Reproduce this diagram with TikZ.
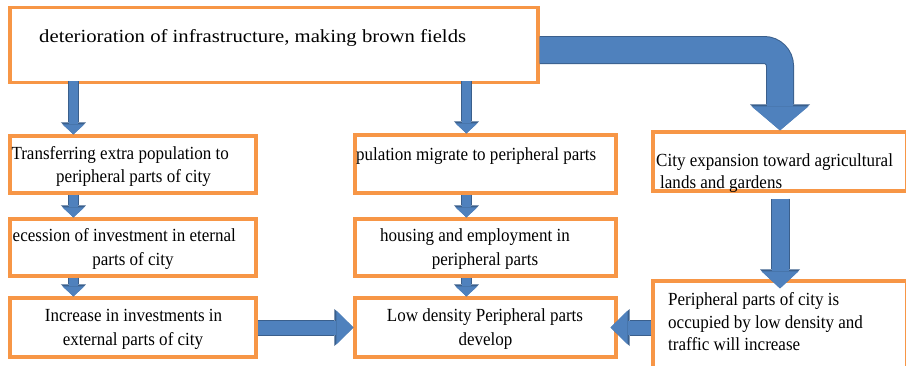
\documentclass[tikz,border=0pt]{standalone}
\usepackage{fontspec}
\setmainfont{Liberation Serif}
\newfontfamily\topfont[FakeStretch=1.12]{Liberation Serif}
\newfontfamily\bodyfont[FakeStretch=0.92]{Liberation Serif}
\usetikzlibrary{arrows.meta}

\definecolor{boxorange}{HTML}{F79646}
\definecolor{arrowfill}{HTML}{4F81BD}
\definecolor{arrowedge}{HTML}{3A5F8C}

\begin{document}
\begin{tikzpicture}[x=1pt, y=-1pt,
    box/.style={draw=boxorange, line width=3.2pt, rectangle, inner sep=0pt},
    txt/.style={font=\bodyfont\fontsize{18.5}{23}\selectfont, inner sep=0pt},
    smallarrow/.style={line width=9pt, draw=arrowfill,
      -{Triangle[width=22pt, length=10pt, line width=0pt]},
      preaction={draw=arrowedge, line width=11pt,
        -{Triangle[width=25pt, length=12pt, line width=0pt]}}},
    medarrow/.style={line width=14pt, draw=arrowfill,
      -{Triangle[width=34pt, length=17pt, line width=0pt]},
      preaction={draw=arrowedge, line width=16pt,
        -{Triangle[width=37pt, length=19pt, line width=0pt]}}},
    tallarrow/.style={line width=17pt, draw=arrowfill,
      -{Triangle[width=37pt, length=17pt, line width=0pt]},
      preaction={draw=arrowedge, line width=19pt,
        -{Triangle[width=40pt, length=19pt, line width=0pt]}}},
    bendarrow/.style={line width=26pt, draw=arrowfill, rounded corners=16pt,
      -{Triangle[width=57pt, length=24pt, line width=0pt]},
      preaction={draw=arrowedge, line width=28pt,
        -{Triangle[width=60pt, length=26pt, line width=0pt]}}}]

  \clip (0,0) rectangle (906,365);

  % boxes
  \begin{scope}[every node/.style={box}]
    \node[minimum width=528pt, minimum height=75pt] (top) at (274,45) {};
    \node[minimum width=246pt, minimum height=57pt] (l1)  at (133,164.5) {};
    \node[minimum width=246pt, minimum height=57pt] (l2)  at (133,247.5) {};
    \node[minimum width=246pt, minimum height=59pt] (l3)  at (133,327.5) {};
    \node[minimum width=261pt, minimum height=58pt] (m1)  at (485.5,164) {};
    \node[minimum width=261pt, minimum height=57pt] (m2)  at (485.5,247.5) {};
    \node[minimum width=261pt, minimum height=59pt] (m3)  at (485.5,327.5) {};
    \node[minimum width=254pt, minimum height=59pt] (r1)  at (780,161.5) {};
    \node[minimum width=254pt, minimum height=93pt] (r2)  at (780,327.5) {};
  \end{scope}

  % texts
  \begin{scope}[every node/.style={txt}]
    \node[font=\topfont\fontsize{18.5}{23}\selectfont, anchor=base west] (toptxt) at (39,42)
      {deterioration of infrastructure, making brown fields};

    \begin{scope}
      \clip (l1.north west) rectangle (l2.south east);
      \node[anchor=base east] (l1a) at (229,159.5) {Transferring extra population to};
      \node[anchor=base east] (l2a) at (236,241.7) {ecession of investment in eternal};
    \end{scope}
    \node[anchor=base] (l1b) at (133.5,182.7) {peripheral parts of city};
    \node[anchor=base] (l2b) at (133,265.7) {parts of city};
    \node[anchor=base] (l3a) at (133.5,321.7) {Increase in investments in};
    \node[anchor=base] (l3b) at (133,345) {external parts of city};

    \node[anchor=base west] (m1a) at (356,160) {pulation migrate to peripheral parts};
    \node[anchor=base west] (m2a) at (380,241.7) {housing and employment in};
    \node[anchor=base] (m2b) at (485,265) {peripheral parts};
    \node[anchor=base] (m3a) at (485,321.7) {Low density Peripheral parts};
    \node[anchor=base] (m3b) at (485.5,345) {develop};

    \node[anchor=base west] (r1a) at (656,166.7) {City expansion toward agricultural};
    \node[anchor=base west] (r1b) at (660,188.3) {lands and gardens};
    \node[anchor=base west] (r2a) at (668,305) {Peripheral parts of city is};
    \node[anchor=base west] (r2b) at (668,328.3) {occupied by low density and};
    \node[anchor=base west] (r2c) at (668,350) {traffic will increase};
  \end{scope}

  % arrows
  \begin{scope}[every edge/.style={draw}]
    \path ([xshift=65pt,yshift=3pt]top.south west) edge[smallarrow] ([xshift=65pt]l1.north west);
    \path ([xshift=65pt]l1.south west) edge[smallarrow] ([xshift=65pt]l2.north west);
    \path ([xshift=65pt]l2.south west) edge[smallarrow] ([xshift=65pt]l3.north west);

    \path ([xshift=458pt,yshift=3pt]top.south west) edge[smallarrow] ([xshift=113pt]m1.north west);
    \path ([xshift=113pt]m1.south west) edge[smallarrow] ([xshift=113pt]m2.north west);
    \path ([xshift=113pt]m2.south west) edge[smallarrow] ([xshift=113pt]m3.north west);

    \path (l3.east) edge[medarrow] (m3.west);
    \path (r2.west) edge[medarrow] ([xshift=-7pt]m3.east);
    \path ([yshift=-6pt]r1.south) edge[tallarrow] ([yshift=-9pt]r2.north);
  \end{scope}

  \draw[bendarrow] ([yshift=-5pt]top.east) -| (r1.north);

\end{tikzpicture}
\end{document}
